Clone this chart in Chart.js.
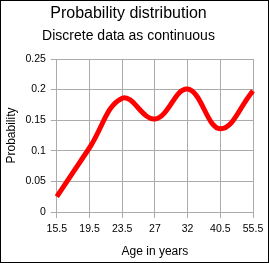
<!DOCTYPE html>
<html><head><meta charset="utf-8">
<script src="https://cdn.jsdelivr.net/npm/chart.js@4/dist/chart.umd.min.js"></script>
<style>html,body{margin:0;padding:0;background:#fff}#wrap{width:269px;height:263px;position:relative}</style>
</head><body><div id="wrap"><canvas id="c" width="269" height="263"></canvas></div>
<script>
const ages = ['15.5','19.5','23.5','27','32','40.5','55.5'];
const probability = [0.025, 0.105, 0.186, 0.152, 0.201, 0.136, 0.198];
const yTicks = [0, 0.05, 0.1, 0.15, 0.2, 0.25];
const FONT = "'Liberation Sans', Arial, sans-serif";
const grid = '#ababab';
const frame = {
  id: 'frame',
  beforeDraw(chart) {
    const c = chart.ctx; c.save(); c.fillStyle = '#fff'; c.fillRect(0,0,chart.width,chart.height); c.restore();
  },
  afterDraw(chart) {
    const c = chart.ctx; c.save(); c.strokeStyle = '#000'; c.lineWidth = 1;
    c.strokeRect(0.5,0.5,chart.width-1,chart.height-1); c.restore();
  }
};
new Chart(document.getElementById('c'), {
  type: 'line',
  data: { labels: ages, datasets: [{ data: probability, borderColor: '#ff0000', borderWidth: 5, pointRadius: 0, tension: 0.4, fill: false }] },
  plugins: [frame],
  options: {
    responsive: false, animation: false, devicePixelRatio: 1,
    layout: { padding: { left: 4, right: 16, top: 0, bottom: 4 } },
    plugins: {
      legend: { display: false }, tooltip: { enabled: false },
      title: { display: true, text: 'Probability distribution', color: '#000', font: { family: FONT, size: 16, weight: 'normal' }, padding: { top: 4, bottom: 0 } },
      subtitle: { display: true, text: 'Discrete data as continuous', color: '#000', font: { family: FONT, size: 14, weight: 'normal' }, padding: { top: 5, bottom: 14 } }
    },
    scales: {
      x: {
        offset: false,
        grid: { color: grid, tickLength: 6, drawTicks: true },
        border: { color: grid },
        ticks: { color: '#000', font: { family: FONT, size: 10.5 }, padding: 5, maxRotation: 0, autoSkip: false },
        title: { display: true, text: 'Age in years', color: '#000', font: { family: FONT, size: 12 }, padding: { top: 4, bottom: 0 } }
      },
      y: {
        min: 0, max: 0.25,
        afterBuildTicks(s) { s.ticks = yTicks.map(v => ({ value: v })); },
        grid: { color: grid, tickLength: 6 },
        border: { color: grid },
        ticks: { color: '#000', font: { family: FONT, size: 10.5 }, padding: 5, callback: v => String(v) },
        title: { display: true, text: 'Probability', color: '#000', font: { family: FONT, size: 12 }, padding: { top: 0, bottom: 2 } }
      }
    }
  }
});
</script></body></html>
